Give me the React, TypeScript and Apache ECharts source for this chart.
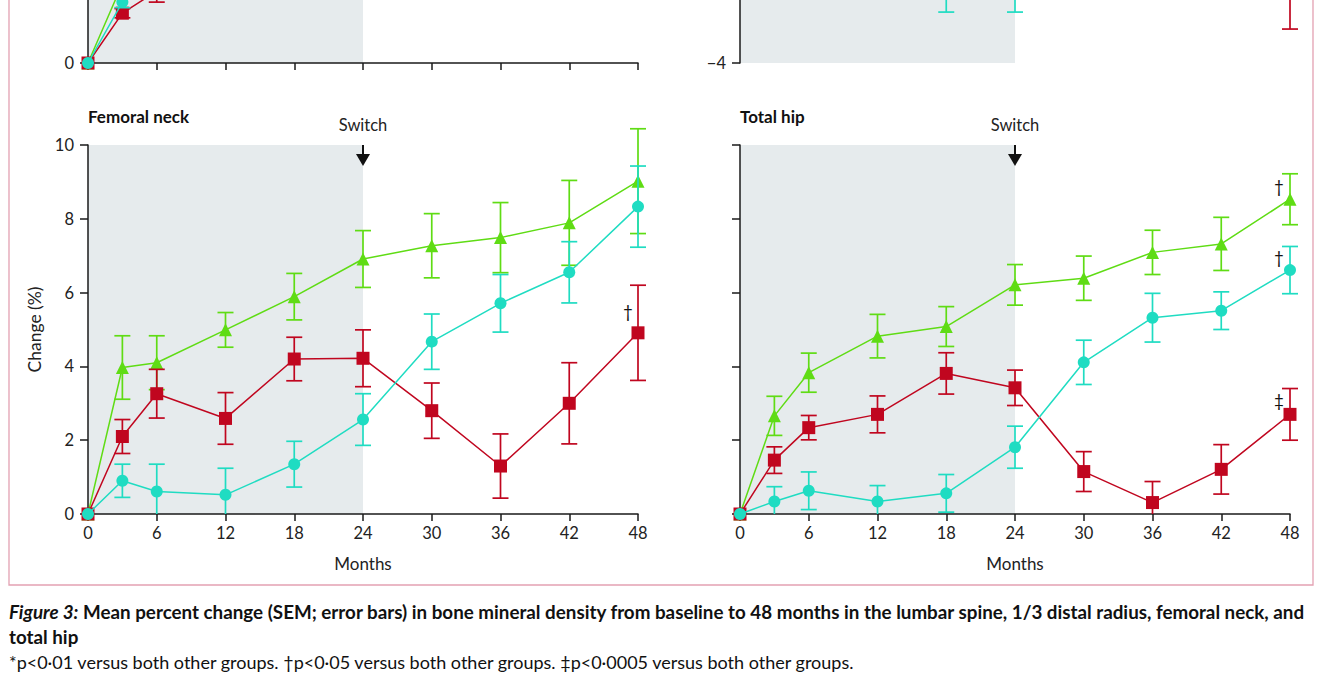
import React, { useEffect, useRef } from "react";
import * as echarts from "echarts";

const months = [0, 3, 6, 12, 18, 24, 30, 36, 42, 48];

// Lumbar spine (upper-left panel, only its base is visible)
const lsCombo = [0, 4.3, 6.5, 9.0, 10.5, 12.9, 14.0, 15.0, 15.5, 16.0];
const lsComboSem = [0, 0.3, 0.4, 0.5, 0.6, 0.7, 0.7, 0.8, 0.8, 0.9];
const lsTeri = [0, 3.3, 5.5, 8.0, 9.5, 10.0, 13.0, 15.5, 17.0, 18.3];
const lsTeriSem = [0, 0.3, 0.4, 0.5, 0.6, 0.7, 0.7, 0.8, 0.8, 0.9];
const lsDeno = [0, 2.7, 3.9, 5.0, 6.0, 8.0, 9.5, 11.5, 13.0, 14.0];
const lsDenoSem = [0, 0.25, 0.6, 0.5, 0.6, 0.7, 0.7, 0.8, 0.8, 0.9];

// 1/3 distal radius (upper-right panel, only its base is visible)
const drCombo = [0, 0.5, 1.0, 1.5, 2.0, 2.5, 2.6, 2.7, 2.8, 2.8];
const drComboSem = [0, 0.4, 0.5, 0.5, 0.6, 0.6, 0.6, 0.7, 0.7, 0.7];
const drTeri = [0, -0.5, -1.0, -1.4, -1.9, -1.9, -1.2, -0.8, -0.5, -0.2];
const drTeriSem = [0, 0.4, 0.5, 0.6, 0.72, 0.72, 0.7, 0.7, 0.7, 0.7];
const drDeno = [0, 0.5, 0.6, 0.5, 0.4, 0.3, -0.5, -1.0, -1.5, -2.0];
const drDenoSem = [0, 0.4, 0.5, 0.5, 0.6, 0.6, 0.6, 0.7, 0.7, 1.08];

// Femoral neck
const fnCombo = [0, 3.97, 4.1, 4.99, 5.89, 6.91, 7.27, 7.49, 7.89, 9.02];
const fnComboSem = [0, 0.86, 0.73, 0.47, 0.63, 0.77, 0.87, 0.95, 1.15, 1.42];
const fnTeri = [0, 0.9, 0.61, 0.52, 1.35, 2.56, 4.67, 5.71, 6.55, 8.33];
const fnTeriSem = [0, 0.45, 0.74, 0.72, 0.62, 0.7, 0.75, 0.78, 0.83, 1.1];
const fnDeno = [0, 2.1, 3.26, 2.59, 4.2, 4.22, 2.8, 1.3, 3.0, 4.91];
const fnDenoSem = [0, 0.46, 0.66, 0.7, 0.59, 0.77, 0.75, 0.87, 1.1, 1.29];

// Total hip
const thCombo = [0, 2.66, 3.83, 4.82, 5.08, 6.21, 6.39, 7.09, 7.32, 8.53];
const thComboSem = [0, 0.53, 0.53, 0.59, 0.54, 0.55, 0.6, 0.6, 0.72, 0.69];
const thTeri = [0, 0.34, 0.63, 0.34, 0.56, 1.81, 4.11, 5.32, 5.51, 6.61];
const thTeriSem = [0, 0.4, 0.51, 0.43, 0.51, 0.57, 0.6, 0.66, 0.51, 0.64];
const thDeno = [0, 1.46, 2.34, 2.7, 3.81, 3.42, 1.15, 0.31, 1.21, 2.7];
const thDenoSem = [0, 0.36, 0.33, 0.5, 0.56, 0.48, 0.54, 0.57, 0.67, 0.7];

const yMins = [0, -4, 0, 0];
const yMaxs = [20, 6, 10, 10];
const yIntervals = [5, 2, 2, 2];
const switchMonth = 24;

const panelTitles = ["Femoral neck", "Total hip"];

const captionLine1Italic = "Figure 3:";
const captionLine1 =
  " Mean percent change (SEM; error bars) in bone mineral density from baseline to 48 months in the lumbar spine, 1/3 distal radius, femoral neck, and";
const captionLine2 = "total hip";
const captionLine3 =
  "*p<0·01 versus both other groups. †p<0·05 versus both other groups. ‡p<0·0005 versus both other groups.";

const GREEN = "#5fdc14";
const CYAN = "#1fdcc2";
const RED = "#c0061f";
const FONT = "Lato";

// the figure is taller than the window; its upper part lies above the visible area
const OFF = 312;
const FIG_H = 1000;

const panels = [
  { combo: lsCombo, comboSem: lsComboSem, teri: lsTeri, teriSem: lsTeriSem, deno: lsDeno, denoSem: lsDenoSem },
  { combo: drCombo, comboSem: drComboSem, teri: drTeri, teriSem: drTeriSem, deno: drDeno, denoSem: drDenoSem },
  { combo: fnCombo, comboSem: fnComboSem, teri: fnTeri, teriSem: fnTeriSem, deno: fnDeno, denoSem: fnDenoSem },
  { combo: thCombo, comboSem: thComboSem, teri: thTeri, teriSem: thTeriSem, deno: thDeno, denoSem: thDenoSem },
];

const marks = [
  { grid: 2, key: "deno", idx: 9, text: "†", dx: -10, dy: -21 },
  { grid: 3, key: "combo", idx: 9, text: "†", dx: -11, dy: -13 },
  { grid: 3, key: "teri", idx: 9, text: "†", dx: -11, dy: -13 },
  { grid: 3, key: "deno", idx: 9, text: "‡", dx: -11, dy: -14 },
];

// value dims: 0 month, 1 low, 2 high, 3 axis minimum (bars are cut at the axis)
function renderErr(params: any, api: any) {
  const x = api.value(0);
  const lo = api.value(1);
  const hi = api.value(2);
  const floor = api.value(3);
  if (hi - lo <= 0) return null;
  const clipped = lo < floor;
  const a = api.coord([x, clipped ? floor : lo]);
  const b = api.coord([x, hi]);
  const hw = 8;
  const style = { stroke: api.visual("color"), lineWidth: 1.7 };
  const children: any[] = [
    { type: "line", shape: { x1: a[0], y1: a[1], x2: b[0], y2: b[1] }, style },
    { type: "line", shape: { x1: b[0] - hw, y1: b[1], x2: b[0] + hw, y2: b[1] }, style },
  ];
  if (!clipped) {
    children.push({ type: "line", shape: { x1: a[0] - hw, y1: a[1], x2: a[0] + hw, y2: a[1] }, style });
  }
  return { type: "group", children };
}

export default function App() {
  const ref = useRef<HTMLDivElement>(null);
  useEffect(() => {
    if (!ref.current) return;
    const chart = echarts.init(ref.current, null, { renderer: "svg" });

    const grids = [
      { left: 88, top: OFF - 306, width: 550, height: 369 },
      { left: 740, top: OFF - 306, width: 550, height: 369 },
      { left: 88, top: OFF + 145, width: 550, height: 369 },
      { left: 740, top: OFF + 145, width: 550, height: 369 },
    ];

    const axisLine = { show: true, lineStyle: { color: "#1a1a1a", width: 1.5 } };
    const axisTick = { show: true, length: 7, lineStyle: { color: "#1a1a1a", width: 1.5 } };

    const xAxes = grids.map((_, g) => ({
      type: "value",
      gridIndex: g,
      min: 0,
      max: 48,
      interval: 6,
      z: 3,
      axisLine,
      axisTick,
      splitLine: { show: false },
      axisLabel: { show: g >= 2, margin: 10, fontFamily: FONT, fontSize: 16.5, color: "#222" },
      name: g >= 2 ? "Months" : "",
      nameLocation: "middle",
      nameGap: 41,
      nameTextStyle: { fontFamily: FONT, fontSize: 17, color: "#222" },
    }));

    const yAxes = grids.map((_, g) => ({
      type: "value",
      gridIndex: g,
      min: yMins[g],
      max: yMaxs[g],
      interval: yIntervals[g],
      z: 3,
      axisLine,
      axisTick: { ...axisTick, length: 8 },
      splitLine: { show: false },
      axisLabel: {
        show: g !== 3,
        margin: 14,
        fontFamily: FONT,
        fontSize: 16.5,
        color: "#222",
        // upper panels: only their lowest label lies inside the window
        formatter: (v: number) =>
          g < 2 && v !== yMins[g] ? "" : String(v).replace("-", "\u2212"),
      },
      name: g === 2 ? "Change (%)" : "",
      nameLocation: "middle",
      nameGap: 45,
      nameRotate: 90,
      nameTextStyle: { fontFamily: FONT, fontSize: 17.5, color: "#222" },
    }));

    const series: any[] = [];
    panels.forEach((p, g) => {
      series.push({
        type: "custom",
        xAxisIndex: g,
        yAxisIndex: g,
        silent: true,
        z: 1,
        data: [[0, switchMonth, yMins[g], yMaxs[g]]],
        encode: { x: [0, 1], y: [2, 3] },
        renderItem: (params: any, api: any) => {
          const p1 = api.coord([api.value(0), api.value(3)]);
          const p2 = api.coord([api.value(1), api.value(2)]);
          return {
            type: "rect",
            shape: { x: p1[0], y: p1[1], width: p2[0] - p1[0], height: p2[1] - p1[1] },
            style: { fill: "#e6ebed" },
          };
        },
      });
      const groups = [
        { vals: p.combo, sem: p.comboSem, color: GREEN, symbol: "triangle", size: 13, z: 5 },
        { vals: p.deno, sem: p.denoSem, color: RED, symbol: "rect", size: 13, z: 7 },
        { vals: p.teri, sem: p.teriSem, color: CYAN, symbol: "circle", size: 12, z: 9 },
      ];
      groups.forEach((s) => {
        series.push({
          type: "custom",
          xAxisIndex: g,
          yAxisIndex: g,
          silent: true,
          z: s.z,
          itemStyle: { color: s.color },
          data: months.map((m, i) => [m, s.vals[i] - s.sem[i], s.vals[i] + s.sem[i], yMins[g]]),
          encode: { x: 0, y: [1, 2] },
          renderItem: renderErr,
        });
        series.push({
          type: "line",
          xAxisIndex: g,
          yAxisIndex: g,
          silent: true,
          z: s.z + 1,
          data: months.map((m, i) => [m, s.vals[i]]),
          symbol: s.symbol,
          symbolSize: s.size,
          showAllSymbol: true,
          itemStyle: { color: s.color },
          lineStyle: { color: s.color, width: 1.5 },
        });
      });
    });

    chart.setOption({
      animation: false,
      backgroundColor: "#ffffff",
      grid: grids,
      xAxis: xAxes,
      yAxis: yAxes,
      series,
    });

    const graphics: any[] = [];
    graphics.push({
      type: "rect",
      z: 50,
      shape: { x: 9, y: 0, width: 1304, height: OFF + 585 },
      style: { fill: "none", stroke: "#e3a1b2", lineWidth: 1.3 },
      silent: true,
    });
    [2, 3].forEach((g, k) => {
      const top = chart.convertToPixel({ gridIndex: g }, [switchMonth, yMaxs[g]]) as number[];
      graphics.push({
        type: "text",
        z: 50,
        x: grids[g].left,
        y: top[1] - 29,
        style: {
          text: panelTitles[k],
          font: `bold 17px ${FONT}`,
          fill: "#111",
          textVerticalAlign: "middle",
        },
      });
      graphics.push({
        type: "text",
        z: 50,
        x: top[0],
        y: top[1] - 20,
        style: {
          text: "Switch",
          font: `16.5px ${FONT}`,
          fill: "#222",
          textAlign: "center",
          textVerticalAlign: "middle",
        },
      });
      graphics.push({
        type: "line",
        z: 50,
        shape: { x1: top[0], y1: top[1], x2: top[0], y2: top[1] + 10 },
        style: { stroke: "#111", lineWidth: 2 },
      });
      graphics.push({
        type: "polygon",
        z: 50,
        shape: {
          points: [
            [top[0] - 7, top[1] + 9],
            [top[0] + 7, top[1] + 9],
            [top[0], top[1] + 21],
          ],
        },
        style: { fill: "#111" },
      });
    });
    marks.forEach((m) => {
      const p: any = panels[m.grid];
      const pt = chart.convertToPixel({ gridIndex: m.grid }, [months[m.idx], p[m.key][m.idx]]) as number[];
      graphics.push({
        type: "text",
        z: 50,
        x: pt[0] + m.dx,
        y: pt[1] + m.dy,
        style: {
          text: m.text,
          font: `17px ${FONT}`,
          fill: "#111",
          textAlign: "center",
          textVerticalAlign: "middle",
        },
      });
    });
    graphics.push({
      type: "text",
      z: 50,
      x: 9,
      y: OFF + 611,
      style: {
        text: `{i|${captionLine1Italic}}{b|${captionLine1}}`,
        textVerticalAlign: "middle",
        rich: {
          i: { fontFamily: FONT, fontSize: 18.8, fontWeight: "bold", fontStyle: "italic", fill: "#111" },
          b: { fontFamily: FONT, fontSize: 18.8, fontWeight: "bold", fill: "#111" },
        },
      },
    });
    graphics.push({
      type: "text",
      z: 50,
      x: 9,
      y: OFF + 636,
      style: { text: captionLine2, font: `bold 18.8px ${FONT}`, fill: "#111", textVerticalAlign: "middle" },
    });
    graphics.push({
      type: "text",
      z: 50,
      x: 9,
      y: OFF + 662,
      style: { text: captionLine3, font: `18px ${FONT}`, fill: "#111", textVerticalAlign: "middle" },
    });

    chart.setOption({ graphic: graphics });

    return () => chart.dispose();
  }, []);
  return (
    <div
      ref={ref}
      style={{ position: "absolute", left: 0, top: -OFF, width: 1336, height: FIG_H, background: "#fff" }}
    />
  );
}
